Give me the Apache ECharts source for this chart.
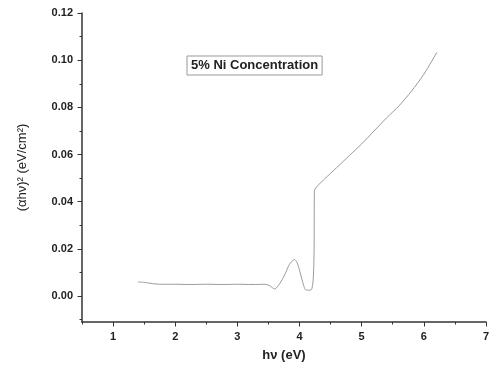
<!DOCTYPE html>
<html>
<head>
<meta charset="utf-8">
<script src="https://cdn.jsdelivr.net/npm/echarts@6/dist/echarts.min.js"></script>
<style>
  html, body { margin: 0; padding: 0; background: #fff; }
  #chart { width: 492px; height: 368px; }
</style>
</head>
<body>
<div id="chart"></div>
<script>
// photon energy hv (eV) and (alpha*h*v)^2 values
var energy = [1.4, 1.5, 1.6, 1.75, 2.0, 2.25, 2.5, 2.75, 3.0, 3.25, 3.45, 3.52, 3.6, 3.68, 3.76, 3.84, 3.92, 3.96, 4.0, 4.05, 4.1, 4.15, 4.19, 4.22, 4.235, 4.24,
              4.4, 4.6, 4.8, 5.0, 5.2, 5.4, 5.6, 5.8, 6.0, 6.21];
var absorb = [0.006, 0.0058, 0.0054, 0.005, 0.005, 0.0049, 0.005, 0.0049, 0.005, 0.0049, 0.005, 0.0044, 0.003, 0.0052, 0.0089, 0.0135, 0.0155, 0.0142, 0.011, 0.006, 0.0026, 0.0025, 0.0026, 0.0068, 0.02, 0.0445,
              0.0495, 0.0545, 0.0595, 0.0645, 0.0700, 0.0755, 0.0806, 0.0868, 0.094, 0.1033];
var xMajor = [1, 2, 3, 4, 5, 6, 7];
var xMinor = [0.5, 1.5, 2.5, 3.5, 4.5, 5.5, 6.5];
var yMajor = [0.00, 0.02, 0.04, 0.06, 0.08, 0.10, 0.12];
var yMinor = [-0.01, 0.01, 0.03, 0.05, 0.07, 0.09, 0.11];
var seriesName = '5% Ni Concentration';

var chart = echarts.init(document.getElementById('chart'));
var font = 'Liberation Sans, Arial, sans-serif';
var points = energy.map(function (x, i) { return [x, absorb[i]]; });

var option = {
    backgroundColor: '#fff',
    animation: false,
    legend: {
        data: [{ name: seriesName, icon: 'none' }],
        left: 187,
        top: 56,
        itemWidth: 0,
        itemHeight: 0,
        padding: [3, 4],
        borderColor: '#999',
        borderWidth: 1,
        textStyle: { fontFamily: font, color: '#222', fontSize: 13, fontWeight: 'bold', padding: [0, 0, 0, -5] }
    },
    grid: { left: 82, right: 4, top: 13, bottom: 46 },
    xAxis: [{
        type: 'value',
        min: 0.5,
        max: 7,
        name: 'hν (eV)',
        nameLocation: 'middle',
        nameGap: 27,
        nameTextStyle: { fontFamily: font, color: '#222', fontSize: 13, fontWeight: 'bold' },
        splitLine: { show: false },
        axisLine: { onZero: false, lineStyle: { color: '#333', width: 1.5 } },
        axisTick: { customValues: xMinor, length: 2.5, lineStyle: { color: '#333' } },
        axisLabel: { customValues: xMajor, margin: 9, fontFamily: font, color: '#222', fontSize: 11, fontWeight: 'bold' }
    }, {
        type: 'value',
        min: 0.5,
        max: 7,
        position: 'bottom',
        splitLine: { show: false },
        axisLine: { show: false, onZero: false },
        axisTick: { customValues: xMajor, length: 4.5, lineStyle: { color: '#333' } },
        axisLabel: { show: false }
    }],
    yAxis: [{
        type: 'value',
        min: -0.011,
        max: 0.12,
        name: '(αhν)² (eV/cm²)',
        nameLocation: 'middle',
        nameGap: 53,
        nameTextStyle: { fontFamily: font, color: '#222', fontSize: 13 },
        splitLine: { show: false },
        axisLine: { onZero: false, lineStyle: { color: '#333', width: 1.5 } },
        axisTick: { customValues: yMinor, length: 2.5, lineStyle: { color: '#333' } },
        axisLabel: {
            customValues: yMajor, margin: 9, fontFamily: font, color: '#222', fontSize: 11, fontWeight: 'bold',
            formatter: function (v) { return v.toFixed(2); }
        }
    }, {
        type: 'value',
        min: -0.011,
        max: 0.12,
        position: 'left',
        splitLine: { show: false },
        axisLine: { show: false, onZero: false },
        axisTick: { customValues: yMajor, length: 4.5, lineStyle: { color: '#333' } },
        axisLabel: { show: false }
    }],
    series: [{
        name: seriesName,
        type: 'line',
        data: points,
        showSymbol: false,
        smooth: 0.25,
        lineStyle: { color: '#9a9a9a', width: 1 },
        itemStyle: { color: '#9a9a9a' }
    }]
};
chart.setOption(option);
</script>
</body>
</html>
